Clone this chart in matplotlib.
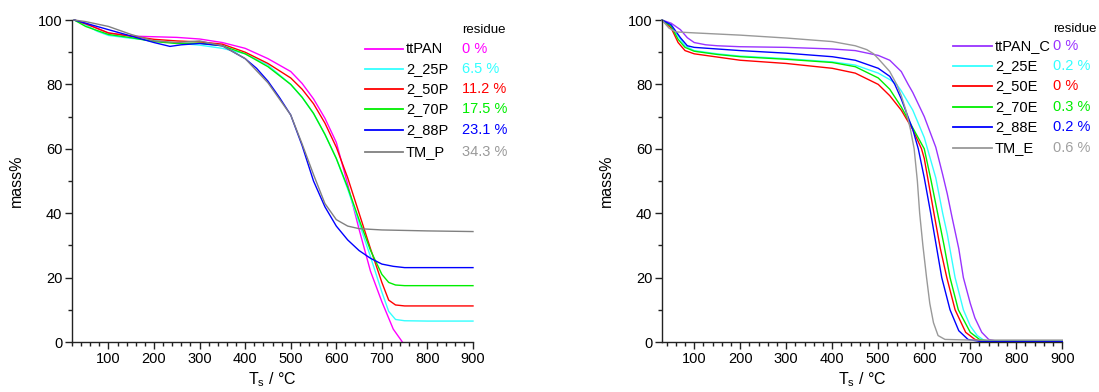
import matplotlib
matplotlib.use("Agg")
import matplotlib.pyplot as plt
from matplotlib.lines import Line2D
from matplotlib.ticker import MultipleLocator

plt.rcParams['font.family'] = ['Liberation Sans', 'DejaVu Sans']

# ---------- left panel: P series ----------
names_p = ['ttPAN', '2_25P', '2_50P', '2_70P', '2_88P', 'TM_P']
residue_p = ['0 %', '6.5 %', '11.2 %', '17.5 %', '23.1 %', '34.3 %']
colors_p = ['#ff00ff', '#33ffff', '#ff0000', '#00ee00', '#0000ff', '#808080']
resid_colors_p = ['#ff00ff', '#33ffff', '#ff0000', '#00ee00', '#0000ff', '#9a9a9a']

T_ttPAN = [25, 50, 100, 150, 200, 250, 300, 350, 400, 450, 500, 525, 550, 575, 600, 625, 650, 675, 700, 725, 745]
m_ttPAN = [100, 99, 95.9, 95, 94.8, 94.6, 94.1, 93, 91.2, 88, 84, 80.3, 75.5, 69.5, 62, 49, 35, 22, 12.5, 4, 0]

T_25P = [25, 50, 75, 100, 150, 200, 250, 300, 350, 400, 450, 500, 525, 550, 575, 600, 625, 650, 675, 700, 715, 730, 750, 800, 900]
m_25P = [100, 98.5, 96.5, 95.2, 94.3, 93.6, 92.8, 92.2, 91.2, 89.5, 86, 80, 76, 71, 64.5, 57, 47.5, 37, 26.5, 15.5, 9.5, 7, 6.6, 6.5, 6.5]

T_50P = [25, 50, 100, 150, 200, 250, 300, 350, 400, 450, 500, 525, 550, 575, 600, 625, 650, 675, 700, 715, 730, 750, 900]
m_50P = [100, 98.8, 96, 95, 94, 93.5, 93.2, 92.5, 90, 86.5, 82, 78.5, 74, 68, 60.5, 51, 40, 29, 18.5, 13, 11.5, 11.2, 11.2]

T_70P = [25, 50, 100, 150, 200, 250, 300, 350, 400, 450, 500, 525, 550, 575, 600, 625, 650, 675, 700, 715, 730, 750, 900]
m_70P = [100, 98, 95.5, 94.5, 93.3, 92.7, 92.8, 92, 89.5, 85.5, 80, 76, 71, 64.5, 57, 48, 38, 28.5, 21, 18.5, 17.7, 17.5, 17.5]

T_88P = [25, 50, 100, 150, 200, 235, 260, 300, 350, 400, 425, 450, 475, 500, 525, 550, 575, 600, 625, 650, 675, 700, 725, 750, 900]
m_88P = [100, 99, 97, 95, 93, 91.8, 92.3, 92.7, 92, 88, 85, 81, 76, 70.5, 61, 50, 42, 36, 31.7, 28.4, 26, 24.2, 23.5, 23.1, 23.1]

T_TMP = [25, 50, 100, 150, 200, 250, 300, 350, 400, 450, 500, 525, 550, 575, 600, 625, 650, 700, 800, 900]
m_TMP = [100, 99.5, 98, 95.5, 93.5, 93, 93.5, 92, 88, 80.5, 70.5, 61.5, 52, 43, 38, 36, 35.2, 34.8, 34.5, 34.3]

T_p = [T_ttPAN, T_25P, T_50P, T_70P, T_88P, T_TMP]
m_p = [m_ttPAN, m_25P, m_50P, m_70P, m_88P, m_TMP]

# ---------- right panel: E series ----------
names_e = ['ttPAN_C', '2_25E', '2_50E', '2_70E', '2_88E', 'TM_E']
residue_e = ['0 %', '0.2 %', '0 %', '0.3 %', '0.2 %', '0.6 %']
colors_e = ['#9933ff', '#33ffff', '#ff0000', '#00ee00', '#0000ff', '#999999']
resid_colors_e = ['#9933ff', '#33ffff', '#ff0000', '#00ee00', '#0000ff', '#a0a0a0']

T_ttC = [30, 50, 70, 85, 100, 125, 150, 200, 300, 400, 450, 500, 525, 550, 565, 575, 600, 625, 640, 650, 660, 675, 685, 700, 710, 725, 740, 760, 900]
m_ttC = [100, 99, 97, 94.5, 93, 92.3, 92, 91.7, 91.5, 91, 90.5, 89, 87.5, 84, 80, 77.5, 70, 60.5, 52, 46, 39, 29, 20, 12, 7.5, 3, 0.8, 0.2, 0]

T_25E = [30, 50, 65, 80, 100, 150, 200, 300, 400, 450, 500, 525, 540, 550, 575, 600, 625, 640, 650, 667, 685, 700, 715, 730, 750, 900]
m_25E = [100, 98, 95, 92, 90.5, 89.5, 88.8, 88, 87, 86, 83.5, 81.5, 80, 78, 72, 63.5, 51, 40, 33.5, 20, 10, 5, 2, 0.5, 0.2, 0.2]

T_50E = [30, 50, 65, 80, 100, 150, 200, 300, 400, 450, 500, 525, 550, 575, 594, 600, 621, 635, 649, 667, 690, 710, 730, 900]
m_50E = [100, 97.5, 93, 90.5, 89.5, 88.5, 87.5, 86.5, 85, 83.5, 80, 76.5, 72, 66, 60, 57, 40, 29, 20, 10, 3, 0.8, 0.1, 0]

T_70E = [30, 50, 65, 80, 100, 150, 200, 300, 400, 450, 500, 525, 550, 575, 600, 615, 629, 643, 656, 674, 700, 720, 740, 900]
m_70E = [100, 98, 94, 91.5, 90.3, 89.3, 88.6, 87.8, 86.8, 85.5, 82, 78.5, 73, 66.5, 60, 50, 40, 30, 20, 10, 3, 0.8, 0.3, 0.3]

T_88E = [30, 50, 70, 85, 100, 150, 200, 300, 400, 450, 500, 525, 536, 550, 575, 587, 600, 614, 626, 638, 656, 675, 695, 720, 900]
m_88E = [100, 98.5, 94.5, 92, 91.5, 91, 90.5, 89.7, 88.6, 87.5, 85, 82.5, 80, 75.5, 66, 60, 51, 40, 30, 20, 10, 3.5, 0.8, 0.2, 0.2]

T_TME = [30, 45, 60, 100, 200, 300, 400, 450, 475, 490, 500, 525, 540, 550, 560, 570, 578, 585, 590, 597, 605, 612, 620, 630, 645, 700, 900]
m_TME = [100, 97.5, 96.3, 96, 95.3, 94.4, 93.3, 92, 90.8, 89.5, 88, 84, 80, 76.5, 72, 66, 60, 50, 40, 30, 20, 12, 6, 2, 0.8, 0.6, 0.6]

T_e = [T_ttC, T_25E, T_50E, T_70E, T_88E, T_TME]
m_e = [m_ttC, m_25E, m_50E, m_70E, m_88E, m_TME]

W, H = 1099, 392
fig = plt.figure(figsize=(W / 100, H / 100), dpi=100)

ax1 = fig.add_axes([72 / W, 1 - 342 / H, 401 / W, 322 / H])
ax2 = fig.add_axes([662 / W, 1 - 342 / H, 400.3 / W, 322 / H])


def style_axis(ax, xmin):
    ax.set_xlim(xmin, 900)
    ax.set_ylim(0, 100)
    for s in ['top', 'right']:
        ax.spines[s].set_visible(False)
    for s in ['left', 'bottom']:
        ax.spines[s].set_color('#222222')
        ax.spines[s].set_linewidth(1.0)
    ax.xaxis.set_major_locator(MultipleLocator(100))
    ax.xaxis.set_minor_locator(MultipleLocator(20))
    ax.yaxis.set_major_locator(MultipleLocator(20))
    ax.yaxis.set_minor_locator(MultipleLocator(10))
    ax.tick_params(which='major', direction='out', length=5, width=1,
                   labelsize=10.5, color='#222222', pad=2)
    ax.tick_params(which='minor', direction='out', length=3, width=1,
                   color='#222222')
    ax.set_xticks([t for t in range(100, 1000, 100)])
    ax.set_ylabel('mass%', fontsize=11.5, labelpad=10)
    ax.set_xlabel(r'T$_\mathregular{s}$ / °C', fontsize=11.5, labelpad=3)


def draw_legend(rows_y, names, colors, rcolors, residues,
                line_x0, line_x1, name_x, res_x, head_x, head_y):
    # legend drawn in figure pixel coordinates
    for i in range(len(names)):
        y = 1 - rows_y[i] / H
        fig.add_artist(Line2D([line_x0 / W, line_x1 / W], [y, y],
                              color=colors[i], lw=1.3))
        fig.text(name_x / W, y, names[i], fontsize=10.5, va='center', ha='left')
        fig.text(res_x / W, y, residues[i], fontsize=10.5, va='center',
                 ha='left', color=rcolors[i])
    fig.text(head_x / W, 1 - head_y / H, 'residue', fontsize=9.5,
             va='center', ha='left')


for T, m, c in zip(T_p, m_p, colors_p):
    ax1.plot(T, m, color=c, lw=1.0, clip_on=False)
style_axis(ax1, 20)

for T, m, c in zip(T_e, m_e, colors_e):
    ax2.plot(T, m, color=c, lw=1.0, clip_on=False)
style_axis(ax2, 30)

draw_legend([49, 69, 89, 109, 130, 152], names_p, colors_p,
            resid_colors_p, residue_p, 365, 403, 406, 462, 462, 30)
draw_legend([46, 66, 86, 107, 127, 148], names_e, colors_e,
            resid_colors_e, residue_e, 953, 992, 995, 1053, 1053, 29)

fig.savefig('out.png', dpi=100)
